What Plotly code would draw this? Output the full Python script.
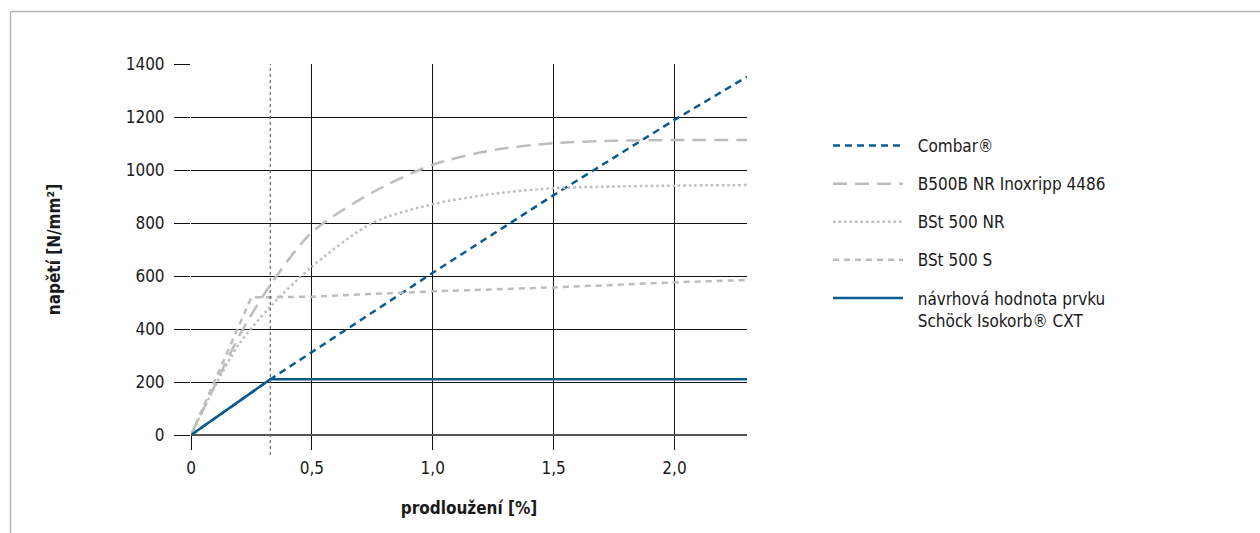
import plotly.graph_objects as go

# ---------------- data ----------------
combar_x = [0, 0.328, 1.0, 1.5, 2.0, 2.3]
combar_y = [0, 210, 612, 905, 1189, 1352]

b500b_x = [0, 0.1, 0.2, 0.328, 0.5, 0.75, 1.0, 1.25, 1.5, 1.75, 2.0, 2.3]
b500b_y = [0, 190, 375, 566, 765, 915, 1020, 1075, 1101, 1110, 1113, 1113]

bst_nr_x = [0, 0.1, 0.2, 0.328, 0.5, 0.75, 1.0, 1.25, 1.5, 2.0, 2.3]
bst_nr_y = [0, 185, 345, 484, 635, 800, 871, 910, 931, 941, 943]

bst_s_x = [0, 0.25, 0.32, 0.5, 1.0, 1.5, 2.0, 2.3]
bst_s_y = [0, 520, 520, 522, 542, 557, 576, 585]

design_x = [0, 0.328, 2.3]
design_y = [0, 210, 210]

yield_x = 0.328  # dotted reference line

x_ticks = [0, 0.5, 1.0, 1.5, 2.0]
x_ticklabels = ["0", "0,5", "1,0", "1,5", "2,0"]
y_ticks = [0, 200, 400, 600, 800, 1000, 1200, 1400]

names = ["Combar®", "B500B NR Inoxripp 4486", "BSt 500 NR", "BSt 500 S",
         "návrhová hodnota prvku<br>Schöck Isokorb® CXT"]

# ---------------- style ----------------
BLUE = "#0b5b8e"
GRAY = "#bdbdbd"
FONT = "DejaVu Sans Condensed, Liberation Sans Narrow, Roboto, sans-serif"
TXT = "#1a1a1a"
FS = 17
PAD = "\u00a0\u00a0"

W, H = 1260, 533
L, R, T, B = 191, 1260 - 747, 64, 533 - 435
PW, PH = W - L - R, H - T - B

fig = go.Figure()

styles = [
    dict(color=BLUE, width=2.5, dash="7px,5px"),
    dict(color=GRAY, width=2.5, dash="14px,8px", shape="spline", smoothing=0.8),
    dict(color=GRAY, width=2.5, dash="2.5px,3px", shape="spline", smoothing=0.8),
    dict(color=GRAY, width=2.5, dash="6px,5px"),
    dict(color=BLUE, width=2.5),
]
series = [(combar_x, combar_y), (b500b_x, b500b_y), (bst_nr_x, bst_nr_y),
          (bst_s_x, bst_s_y), (design_x, design_y)]

for i, ((xs, ys), nm, st) in enumerate(zip(series, names, styles)):
    label = PAD + nm.replace("<br>", "<br>" + PAD)
    fig.add_trace(go.Scatter(x=xs, y=ys, mode="lines", name=label, line=st,
                             legendgroup="g%d" % i))

# vertical dotted reference line, extending below plot area like ticks
fig.add_shape(type="line", xref="x", yref="paper", x0=yield_x, x1=yield_x,
              y0=-20 / PH, y1=1, line=dict(color="#666666", width=1.2, dash="dot"))

# outer thin gray frame (top and left visible)
fy = (H - B - 11.5) / PH
fx = (10.5 - L) / PW
fig.add_shape(type="line", xref="paper", yref="paper",
              x0=fx, x1=(W + 5 - L) / PW, y0=fy, y1=fy,
              line=dict(color="#b5b5b5", width=1.5))
fig.add_shape(type="line", xref="paper", yref="paper",
              x0=fx, x1=fx, y0=fy, y1=(-B - 5) / PH,
              line=dict(color="#b5b5b5", width=1.5))

fig.update_layout(
    width=W, height=H,
    margin=dict(l=L, r=R, t=T, b=B, pad=0),
    paper_bgcolor="white", plot_bgcolor="white",
    font=dict(family=FONT, size=FS, color=TXT),
    showlegend=True,
    legend=dict(x=(828 - L) / PW, y=(H - B - 128) / PH, xanchor="left", yanchor="top",
                traceorder="grouped", tracegroupgap=13, itemwidth=70,
                valign="top", font=dict(family=FONT, size=FS, color=TXT),
                bgcolor="rgba(0,0,0,0)"),
    xaxis=dict(range=[0, 2.3], tickvals=x_ticks, ticktext=x_ticklabels,
               showgrid=True, gridcolor="#111111", gridwidth=1,
               ticks="outside", ticklen=14, tickcolor="#111111", tickwidth=1,
               ticklabelstandoff=4,
               zeroline=False, showline=False,
               title=dict(text="<b>prodloužení [%]</b>", standoff=24,
                          font=dict(family=FONT, size=FS, color=TXT)),
               tickfont=dict(family=FONT, size=FS, color=TXT)),
    yaxis=dict(range=[0, 1400], tickvals=y_ticks,
               showgrid=True, gridcolor="#111111", gridwidth=1,
               ticks="outside", ticklen=16, tickcolor="#111111", tickwidth=1,
               ticklabelstandoff=6,
               zeroline=True, zerolinecolor="#555555", zerolinewidth=2,
               showline=False,
               title=dict(text="<b>napětí [N/mm²]</b>", standoff=60,
                          font=dict(family=FONT, size=FS, color=TXT)),
               tickfont=dict(family=FONT, size=FS, color=TXT)),
)

fig.write_html("out.html", config={"displayModeBar": False},
               post_script="document.body.style.margin='0';document.body.style.overflow='hidden';")
